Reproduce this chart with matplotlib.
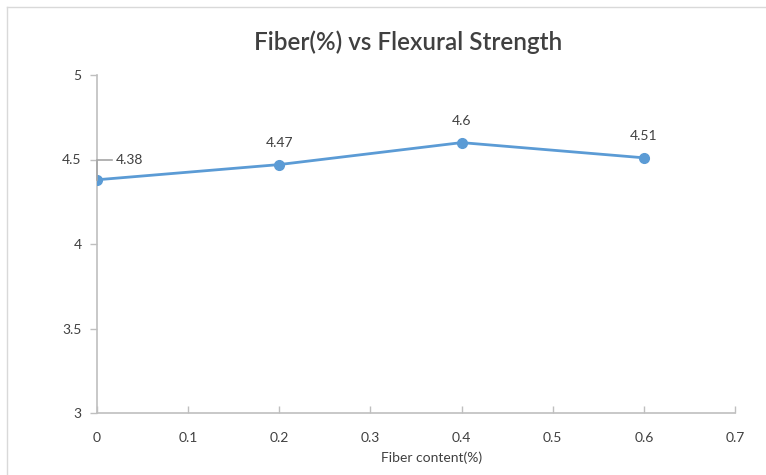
import matplotlib
matplotlib.use("Agg")
import matplotlib.pyplot as plt
from matplotlib.lines import Line2D

# Flexural strength measured at each fibre dosage
fiber_content = [0.0, 0.2, 0.4, 0.6]
flexural_strength = [4.38, 4.47, 4.60, 4.51]
x_ticks = [0, 0.1, 0.2, 0.3, 0.4, 0.5, 0.6, 0.7]
x_tick_labels = ["0", "0.1", "0.2", "0.3", "0.4", "0.5", "0.6", "0.7"]
y_ticks = [3, 3.5, 4, 4.5, 5]
y_tick_labels = ["3", "3.5", "4", "4.5", "5"]

title = "Fiber(%) vs Flexural Strength"
x_title = "Fiber content(%)"

plt.rcParams["font.family"] = ["Lato", "DejaVu Sans"]
text_color = "#404040"
axis_color = "#BFBFBF"
line_color = "#5B9BD5"

fig = plt.figure(figsize=(7.66, 4.75), dpi=100)
ax = fig.add_axes([97 / 766, 1 - 413 / 475, (735 - 97) / 766, (413 - 75) / 475])

ax.plot(fiber_content, flexural_strength, color=line_color, lw=2.0,
        marker="o", markersize=7, markerfacecolor=line_color,
        markeredgecolor=line_color, zorder=3)

ax.set_xlim(0, 0.7)
ax.set_ylim(3, 5)
ax.set_xticks(x_ticks)
ax.set_xticklabels(x_tick_labels)
ax.set_yticks(y_ticks)
ax.set_yticklabels(y_tick_labels)

for side in ("top", "right"):
    ax.spines[side].set_visible(False)
for side in ("left", "bottom"):
    ax.spines[side].set_color(axis_color)
    ax.spines[side].set_linewidth(1.2)

ax.tick_params(axis="x", direction="in", length=5, width=1.0, color=axis_color,
               labelcolor=text_color, labelsize=10, pad=14)
ax.tick_params(axis="y", direction="out", length=5, width=1.0, color=axis_color,
               labelcolor=text_color, labelsize=10, pad=6)

ax.set_xlabel(x_title, color=text_color, fontsize=10)
ax.xaxis.set_label_coords(0.525, -0.115)

# Data labels; the first point's label sits to the side with a leader line
for i, (x, y) in enumerate(zip(fiber_content, flexural_strength)):
    label = f"{y:g}"
    if i == 0:
        lift = 0.12
        ax.plot([x, x, x + 0.017], [y, y + lift, y + lift], color="#A6A6A6",
                lw=1.2, clip_on=False, zorder=4, solid_joinstyle="miter")
        ax.text(x + 0.021, y + lift, label, ha="left", va="center",
                color=text_color, fontsize=10)
    else:
        ax.annotate(label, xy=(x, y), xytext=(0, 15.5), textcoords="offset points",
                    ha="center", va="center", color=text_color, fontsize=10)

fig.text(408 / 766, 1 - 42 / 475, title, ha="center", va="center",
         color=text_color, fontsize=17.5, fontweight="semibold")

# Outer chart-area frame
fig.add_artist(Line2D([7 / 766, 1.0], [1 - 7 / 475, 1 - 7 / 475],
                      transform=fig.transFigure, color="#D9D9D9", lw=1.0))
fig.add_artist(Line2D([7 / 766, 7 / 766], [0.0, 1 - 7 / 475],
                      transform=fig.transFigure, color="#D9D9D9", lw=1.0))

fig.savefig("out.png", dpi=100)
